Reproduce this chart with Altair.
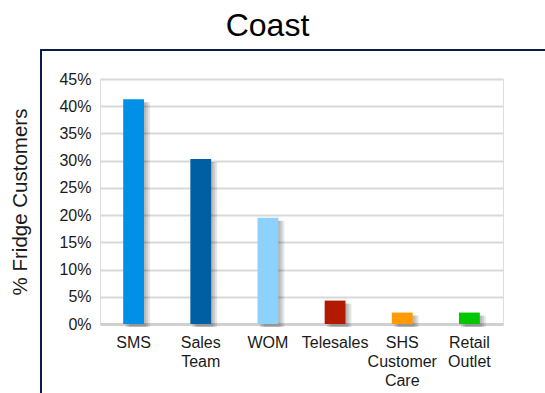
import altair as alt
import pandas as pd

channels = ["SMS", "Sales Team", "WOM", "Telesales", "SHS Customer Care", "Retail Outlet"]
shares = [0.413, 0.303, 0.195, 0.043, 0.021, 0.021]
colors = ["#0090E8", "#005FA3", "#8DD1FF", "#B21A00", "#FF9A00", "#00C800"]

df = pd.DataFrame({"channel": channels, "share": shares})

FONT = "Liberation Sans"

x_enc = alt.X(
    "channel:N",
    sort=channels,
    scale=alt.Scale(paddingInner=0.69, paddingOuter=0.345),
    axis=alt.Axis(
        title=None,
        labelAngle=0,
        labelFont=FONT,
        labelFontSize=16,
        labelColor="#1a1a1a",
        labelPadding=10,
        labelLineHeight=19,
        labelExpr="split(datum.label, ' ')",
        domain=True,
        domainColor="#D0D0D0",
        domainWidth=3,
        ticks=False,
        grid=False,
    ),
)

y_enc = alt.Y(
    "share:Q",
    scale=alt.Scale(domain=[0, 0.45], nice=False),
    axis=alt.Axis(
        title="% Fridge Customers",
        titleFont=FONT,
        titleFontSize=20.5,
        titleFontWeight="normal",
        titleColor="#1a1a1a",
        titlePadding=28,
        values=[0, 0.05, 0.1, 0.15, 0.2, 0.25, 0.3, 0.35, 0.4, 0.45],
        format=".0%",
        labelFont=FONT,
        labelFontSize=16,
        labelColor="#1a1a1a",
        labelPadding=9,
        domain=False,
        ticks=False,
        grid=True,
        gridColor="#D9D9D9",
        gridWidth=2,
    ),
)

base = alt.Chart(df)

shadows = [
    base.mark_bar(color="#000000", opacity=0.10, xOffset=off, yOffset=3).encode(x=x_enc, y=y_enc)
    for off in (2, 4, 6)
]

bars = base.mark_bar().encode(
    x=x_enc,
    y=y_enc,
    color=alt.Color("channel:N", scale=alt.Scale(domain=channels, range=colors), legend=None),
)

frame_left = base.mark_rule(color="#0A1E45", strokeWidth=2).encode(
    x=alt.value(-59), y=alt.value(-29), y2=alt.value(400)
)
frame_top = base.mark_rule(color="#0A1E45", strokeWidth=2).encode(
    x=alt.value(-60), x2=alt.value(460), y=alt.value(-29)
)

chart = alt.layer(*shadows, bars, frame_left, frame_top).properties(
    width=403,
    height=245,
    title=alt.TitleParams(
        "Coast",
        font=FONT,
        fontSize=32,
        fontWeight="normal",
        color="#000000",
        anchor="middle",
        frame="group",
        baseline="alphabetic",
        offset=-19,
        dx=-34,
    ),
    autosize=alt.AutoSizeParams(type="none"),
    padding={"left": 100, "top": 79, "right": 42, "bottom": 69},
).configure_view(stroke=None).configure(background="white")

chart.save("out.html", embed_options={"renderer": "svg", "actions": False})
